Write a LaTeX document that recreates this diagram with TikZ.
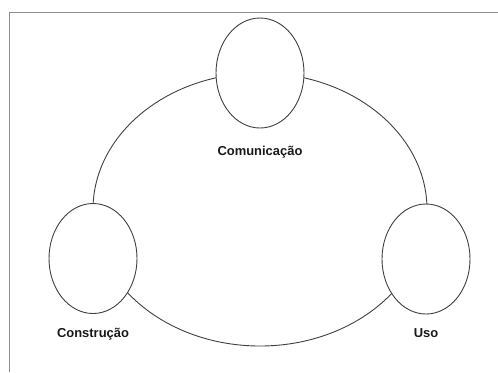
\documentclass[tikz,border=0pt]{standalone}
\usepackage{fontspec}
\setmainfont{Liberation Sans}
\usetikzlibrary{shapes.geometric}
\begin{document}
\begin{tikzpicture}[x=1bp,y=-1bp,
  stage/.style={ellipse,draw=black!75,line width=0.9bp,fill=white,minimum width=88bp,minimum height=110bp,inner sep=0pt},
  lab/.style={font=\bfseries\fontsize{13}{15}\selectfont,text=black!90},
  frame/.style={draw=black!45,line width=1.4bp}]
\useasboundingbox (0,0) rectangle (498,372);
\draw[frame] (9.5,372) -- (9.5,12.5) -- (498,12.5);
\node[ellipse,draw=black!75,line width=0.9bp,minimum width=334bp,minimum height=273bp,inner sep=0pt] (cycle) at (260,209.5) {};
\node[stage] (com) at (260,73) {};
\node[stage] (con) at (93,258.5) {};
\node[stage] (uso) at (426,259) {};
\node[lab] (tcom) at (260,152) {Comunicação};
\node[lab] (tcon) at (93,334) {Construção};
\node[lab] (tuso) at (426,333) {Uso};
\end{tikzpicture}
\end{document}
